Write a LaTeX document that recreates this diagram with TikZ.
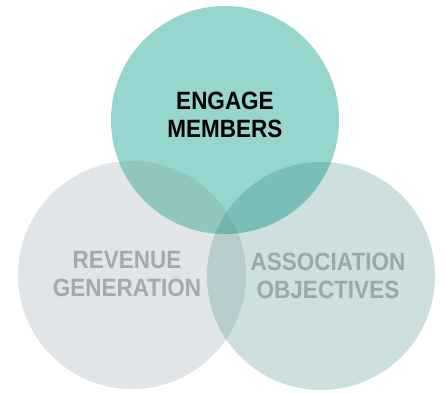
\documentclass[tikz,border=0pt]{standalone}
\usepackage{fontspec}
\newfontfamily\vennfont{Liberation Sans}[FakeStretch=0.9]
\definecolor{engageteal}{HTML}{96D6CE}
\definecolor{revenuegray}{HTML}{E2E5E8}
\definecolor{assocgray}{HTML}{CDE0DF}
\definecolor{tealleft}{HTML}{90C5C0}
\definecolor{tealright}{HTML}{79BFB8}
\definecolor{grayboth}{HTML}{B8CCCE}
\definecolor{tealall}{HTML}{72B3AD}
\definecolor{revenuetext}{HTML}{A6A8AA}
\definecolor{assoctext}{HTML}{9CA8A8}
\usetikzlibrary{positioning}

\begin{document}
\begin{tikzpicture}[x=1pt,y=-1pt,font=\vennfont\bfseries\fontsize{25}{28}\selectfont]
        \tikzset{
            venntext/.style={
                align=center,
                inner sep=0pt
            },
            vennarea/.style={
                radius=114pt
            }
        }
        \useasboundingbox (0,0) rectangle (445,393);

        \coordinate (engagec) at (225,120);
        \coordinate (revenuec) at (132,275);
        \coordinate (assocc) at (321,276);

        % plain circles
        \fill[revenuegray,vennarea] (revenuec) circle;
        \fill[assocgray,vennarea] (assocc) circle;
        \fill[engageteal,vennarea] (engagec) circle;

        % overlaps
        \begin{scope}
            \clip[vennarea] (engagec) circle;
            \fill[tealleft,vennarea] (revenuec) circle;
            \fill[tealright,vennarea] (assocc) circle;
        \end{scope}
        \begin{scope}
            \clip[vennarea] (revenuec) circle;
            \fill[grayboth,vennarea] (assocc) circle;
            \clip[vennarea] (engagec) circle;
            \fill[tealall,vennarea] (assocc) circle;
        \end{scope}

        \node[venntext,text=black] (engage) at (225,115)
            {ENGAGE\\MEMBERS};
        \node[venntext,text=revenuetext] (revenue) at (127,274)
            {REVENUE\\GENERATION};
        \node[venntext,text=assoctext] (assoc) at (328,276)
            {ASSOCIATION\\OBJECTIVES};
    \end{tikzpicture}
\end{document}
